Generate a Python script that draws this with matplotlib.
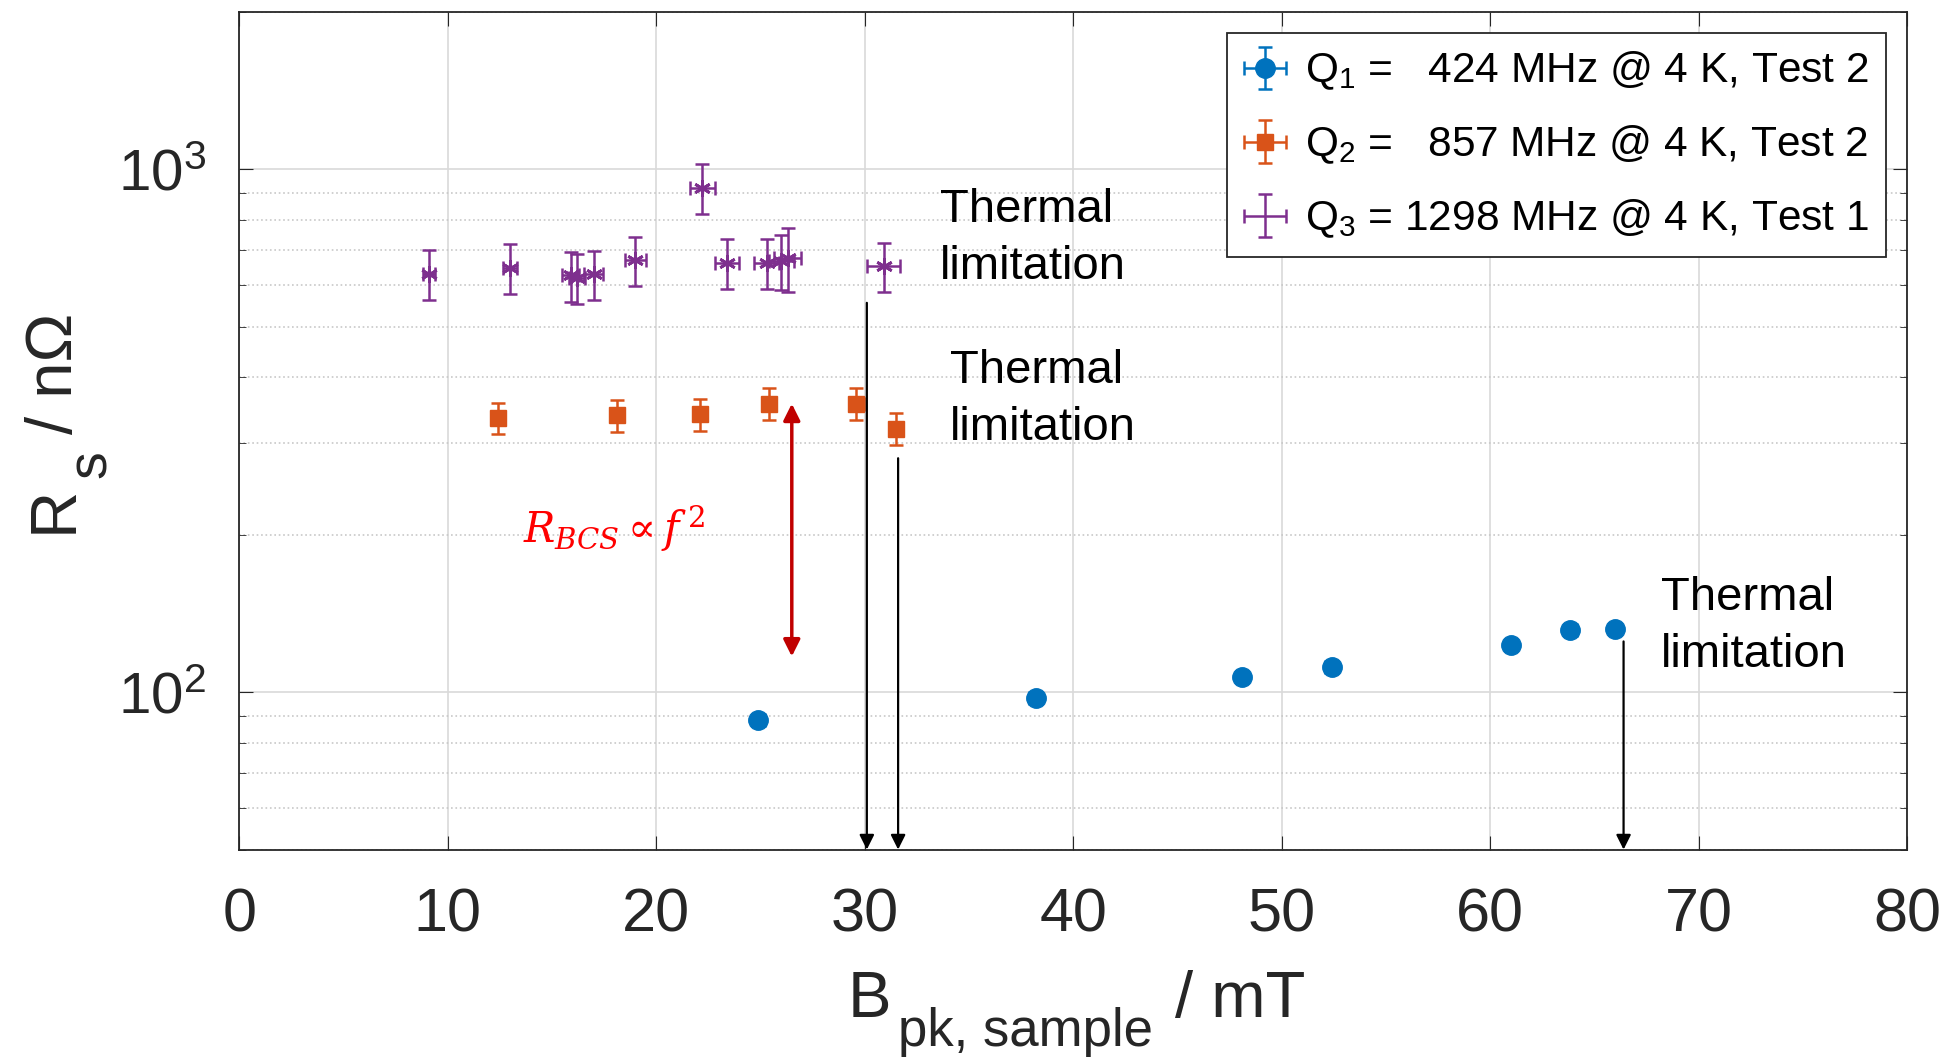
import numpy as np
from matplotlib import pyplot as plt

plt.rcParams['font.family'] = ['Liberation Sans', 'DejaVu Sans']
plt.rcParams['mathtext.fontset'] = 'custom'
plt.rcParams['mathtext.rm'] = 'Liberation Sans'
plt.rcParams['mathtext.it'] = 'Liberation Sans:italic'

# Q1 = 424 MHz
b1 = [24.9, 38.2, 48.1, 52.4, 61.0, 63.85, 66.0]
rs1 = [88.3, 97.3, 107.0, 111.6, 122.9, 131.3, 131.9]
rs1_err = [2.0, 2.0, 2.2, 2.2, 2.4, 2.6, 2.6]
b1_err = [0.3, 0.3, 0.3, 0.3, 0.3, 0.3, 0.3]

# Q2 = 857 MHz
b2 = [12.4, 18.1, 22.1, 25.4, 29.6, 31.5]
rs2 = [334, 338, 340, 356, 356, 319]
rs2_err = [23, 24, 24, 25, 25, 22]
b2_err = [0.3, 0.3, 0.3, 0.35, 0.35, 0.35]

# Q3 = 1298 MHz
b3 = [9.1, 13.0, 15.9, 16.2, 17.0, 19.0, 22.2, 23.4, 25.3, 26.0, 26.3, 30.9]
rs3 = [631, 648, 626, 620, 629, 669, 921, 662, 662, 668, 676, 653]
rs3_err = [68, 70, 68, 68, 68, 72, 100, 72, 72, 80, 95, 70]
b3_err = [0.3, 0.33, 0.4, 0.4, 0.45, 0.5, 0.6, 0.58, 0.6, 0.6, 0.65, 0.77]

labels = ['Q$_1$ =   424 MHz @ 4 K, Test 2',
          'Q$_2$ =   857 MHz @ 4 K, Test 2',
          'Q$_3$ = 1298 MHz @ 4 K, Test 1']
colors = ['#0072BD', '#D95319', '#7E2F8E']

# thermal limitation arrows: x, start of arrow; text anchored at last line baseline
limit_x = [30.1, 31.6, 66.4]
limit_start = [555, 280, 125]
limit_text_x = [33.6, 34.1, 68.2]
limit_text_y = [616, 304, 111.7]

fig = plt.figure(figsize=(19.46, 10.58), dpi=100)
ax = fig.add_axes([0.123, 0.197, 0.857, 0.792])

ax.errorbar(b1, rs1, yerr=rs1_err, xerr=b1_err, fmt='o', color=colors[0],
            ms=14, elinewidth=1.8, capsize=5, capthick=1.8, label=labels[0])
ax.errorbar(b2, rs2, yerr=rs2_err, xerr=b2_err, fmt='s', color=colors[1],
            ms=11, elinewidth=1.8, capsize=5, capthick=1.8, label=labels[1])
ax.errorbar(b3, rs3, yerr=rs3_err, xerr=b3_err, fmt='none', color=colors[2],
            elinewidth=1.8, capsize=5, capthick=1.8, label=labels[2])
ax.plot(b3, rs3, linestyle='none', marker=(6, 2, 0), color=colors[2], ms=12, mew=2)

for x, y0, tx, ty in zip(limit_x, limit_start, limit_text_x, limit_text_y):
    ax.annotate('', xy=(x, 50), xytext=(x, y0),
                arrowprops=dict(arrowstyle='-|>', color='k', lw=1.6,
                                mutation_scale=22, shrinkA=0, shrinkB=0))
    ax.text(tx, ty, 'Thermal\nlimitation', fontsize=34, va='baseline', ha='left',
            linespacing=1.38)

ax.annotate('', xy=(26.5, 117), xytext=(26.5, 356),
            arrowprops=dict(arrowstyle='<|-|>', color='#C00000', lw=2.5,
                            mutation_scale=25, shrinkA=0, shrinkB=0))
ax.text(13.6, 193, r'$R_{BCS} \propto f^{\,2}$', color='red', fontsize=30,
        va='baseline', ha='left', math_fontfamily='dejavuserif')

ax.set_yscale('log')
ax.set_xlim(0, 80)
ax.set_ylim(50, 2000)
ax.set_xticks(np.arange(0, 81, 10))
ax.grid(which='major', color='#d9d9d9', linewidth=1.2)
ax.grid(which='minor', axis='y', color='#c8c8c8', linestyle=':', linewidth=1.2)
ax.tick_params(which='both', direction='in', top=True, right=True, colors='#262626')
ax.tick_params(axis='x', labelsize=44, pad=27)
ax.tick_params(axis='y', labelsize=42, pad=24)
ax.tick_params(which='major', length=10)
ax.tick_params(which='minor', length=5)
for s in ax.spines.values():
    s.set_color('#262626')
    s.set_linewidth(1.3)

leg = ax.legend(loc='upper right', fontsize=30.5, frameon=True, fancybox=False,
                edgecolor='#262626', framealpha=1, handlelength=1.0,
                handletextpad=0.45, borderpad=0.4, labelspacing=0.74)
leg.get_frame().set_linewidth(1.3)

# axis labels with MATLAB-like large, low subscripts
fig.canvas.draw()
r = fig.canvas.get_renderer()
W, H = fig.bbox.width, fig.bbox.height
lab = dict(color='#262626', ha='left', va='baseline', rotation_mode='anchor')

tb = fig.text(848 / W, 1 - 1016.7 / H, 'B', fontsize=47, **lab)
x_next = tb.get_window_extent(r).x1 + 6
ts = fig.text(x_next / W, 1 - 1046 / H, 'pk, sample', fontsize=38, **lab)
x_next = ts.get_window_extent(r).x1 + 22
fig.text(x_next / W, 1 - 1016.7 / H, '/ mT', fontsize=47, **lab)

tr = fig.text(72 / W, 1 - 533 / H, 'R', fontsize=47, rotation=90, **lab)
y_next = tr.get_window_extent(r).y1 + 8
ts = fig.text(106 / W, y_next / H, 's', fontsize=40, rotation=90, **lab)
y_next = ts.get_window_extent(r).y1 + 16
fig.text(72 / W, y_next / H, '/ n\u03a9', fontsize=47, rotation=90, **lab)

plt.savefig('out.png', dpi=100)
